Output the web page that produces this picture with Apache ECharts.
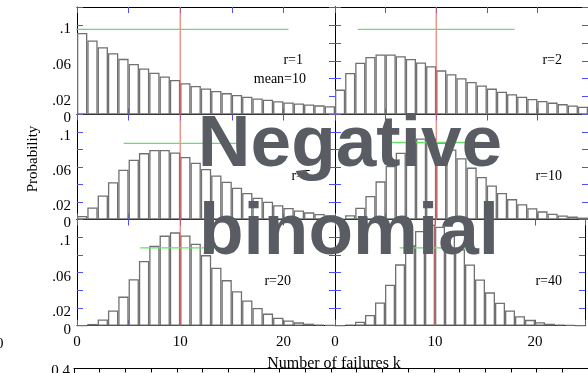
<!DOCTYPE html>
<html><head><meta charset="utf-8">
<script src="https://cdn.jsdelivr.net/npm/echarts@6/dist/echarts.min.js"></script>
<style>html,body{margin:0;padding:0;background:#fff}#c{width:588px;height:373px}</style>
</head><body><div id="c"></div>
<script>
// ---- data ----
const kCategories = [0,1,2,3,4,5,6,7,8,9,10,11,12,13,14,15,16,17,18,19,20,21,22,23,24];
const probR1  = [.0909,.0826,.0751,.0683,.0621,.0564,.0513,.0467,.0424,.0386,.0350,.0319,.0290,.0263,.0239,.0218,.0198,.0180,.0164,.0149,.0135,.0123,.0112,.0102,.0093];
const probR2  = [.0278,.0463,.0579,.0643,.0670,.0670,.0651,.0620,.0581,.0538,.0493,.0449,.0405,.0364,.0325,.0289,.0255,.0226,.0198,.0174,.0152,.0133,.0116,.0100,.0087];
const probR5  = [.0041,.0137,.0274,.0427,.0569,.0683,.0759,.0795,.0795,.0765,.0714,.0649,.0577,.0503,.0431,.0364,.0304,.0250,.0204,.0164,.0132,.0104,.0082,.0064,.0050];
const probR10 = [.0010,.0049,.0134,.0269,.0436,.0611,.0764,.0873,.0927,.0927,.0881,.0801,.0701,.0593,.0487,.0390,.0304,.0233,.0175,.0129,.0093,.0067,.0047,.0033,.0022];
const probR20 = [.0003,.0020,.0070,.0172,.0329,.0526,.0731,.0904,.1018,.1055,.1020,.0927,.0798,.0655,.0515,.0389,.0284,.0200,.0137,.0091,.0059,.0038,.0023,.0014,.0009];
const probR40 = [.0001,.0011,.0044,.0122,.0262,.0462,.0693,.0910,.1070,.1141,.1118,.1017,.0864,.0691,.0523,.0377,.0259,.0171,.0108,.0066,.0039,.0022,.0012,.0007,.0003];
const rValues = [1, 2, 5, 10, 20, 40];
const meanFailures = 10;
const sdLow  = [-0.49, 2.25, 4.52, 5.53, 6.13, 6.46];
const sdHigh = [20.49, 17.75, 15.48, 14.47, 13.87, 13.54];
const sdBandLevel = [0.095, 0.095, 0.087, 0.088, 0.088, 0.088];
const yTickValues = [0, 0.02, 0.06, 0.1];
const yTickLabels = ['0', '.02', '.06', '.1'];
const xTickValues = [0, 10, 20];
const xTickLabels = ['0', '10', '20'];
const panelTexts = ['r=1', 'r=2', 'r=5', 'r=10', 'r=20', 'r=40'];
const lowerChartTopLabel = '0.4';

// ---- layout ----
const probs = [probR1, probR2, probR5, probR10, probR20, probR40];
const cols = [{left: 77, width: 258}, {left: 335, width: 254}];
const rows = [{top: 7, height: 107.5}, {top: 114.5, height: 105}, {top: 219.5, height: 106.2}];
const serif = 'Liberation Serif';
const tickBlue = '#4d4dff';

const grid = [], xAxis = [], yAxis = [], series = [];
probs.forEach((vals, i) => {
  const r = Math.floor(i / 2), c = i % 2;
  grid.push({left: cols[c].left, top: rows[r].top, width: cols[c].width, height: rows[r].height, show: false});
  xAxis.push({gridIndex: i, type: 'category', data: kCategories, show: false, boundaryGap: true});
  xAxis.push({gridIndex: i, type: 'value', min: 0, max: 25, interval: 5, position: 'bottom',
    axisLine: {show: true, onZero: false, lineStyle: {color: '#000', width: 1}},
    axisTick: {show: true, inside: true, length: 6, lineStyle: {color: tickBlue, width: 1}},
    splitLine: {show: false},
    axisLabel: {show: r === 2, margin: 9, fontFamily: serif, fontSize: 15, color: '#000',
      showMinLabel: true, showMaxLabel: true,
      formatter: v => { const j = xTickValues.indexOf(v); return j >= 0 ? xTickLabels[j] : ''; }}});
  xAxis.push({gridIndex: i, type: 'value', min: 0, max: 25, interval: 5, position: 'top',
    axisLine: {show: true, onZero: false, lineStyle: {color: '#000', width: 1}},
    axisTick: {show: true, inside: true, length: 6, lineStyle: {color: tickBlue, width: 1}},
    splitLine: {show: false}, axisLabel: {show: false}});
  yAxis.push({gridIndex: i, type: 'value', min: 0, max: 0.12, interval: 0.02, position: 'left',
    axisLine: {show: true, onZero: false, lineStyle: {color: '#000', width: 1}},
    axisTick: {show: true, inside: true, length: 6, lineStyle: {color: tickBlue, width: 1}},
    splitLine: {show: false},
    axisLabel: {show: c === 0, margin: 6, verticalAlign: 'top', lineHeight: 8, fontFamily: serif, fontSize: 15, color: '#000',
      showMinLabel: true, showMaxLabel: true,
      formatter: v => { const j = yTickValues.findIndex(t => Math.abs(t - v) < 1e-9); return j >= 0 ? yTickLabels[j] : ''; }}});
  yAxis.push({gridIndex: i, type: 'value', min: 0, max: 0.12, interval: 0.02, position: 'right',
    axisLine: {show: true, onZero: false, lineStyle: {color: '#000', width: 1}},
    axisTick: {show: true, inside: true, length: 6, lineStyle: {color: tickBlue, width: 1}},
    splitLine: {show: false}, axisLabel: {show: false}});
  series.push({type: 'bar', xAxisIndex: 3 * i, yAxisIndex: 2 * i, data: vals,
    barCategoryGap: '0%', barGap: '0%', silent: true,
    itemStyle: {color: '#fff', borderColor: '#707070', borderWidth: 1.3}});
  series.push({type: 'line', xAxisIndex: 3 * i + 1, yAxisIndex: 2 * i, symbol: 'none', silent: true, z: 5,
    data: [[meanFailures, 0], [meanFailures, 0.12]], lineStyle: {color: '#e86060', width: 1}});
  series.push({type: 'line', xAxisIndex: 3 * i + 1, yAxisIndex: 2 * i, symbol: 'none', silent: true, z: 5, clip: true,
    data: [[sdLow[i], sdBandLevel[i]], [sdHigh[i], sdBandLevel[i]]], lineStyle: {color: '#66e066', width: 1.3}});
});

// partial chart below (only its top edge is visible)
grid.push({left: 74, top: 368.5, width: 520, height: 100, show: false});
xAxis.push({gridIndex: 6, type: 'value', min: 0, max: 20, interval: 1, position: 'top',
  axisLine: {show: true, onZero: false, lineStyle: {color: '#000', width: 1}},
  axisTick: {show: true, inside: true, length: 4, lineStyle: {color: '#000'}},
  splitLine: {show: false}, axisLabel: {show: false}});
yAxis.push({gridIndex: 6, type: 'value', min: 0, max: 0.4, interval: 0.4, position: 'left',
  axisLine: {show: true, onZero: false, lineStyle: {color: '#000', width: 1}},
  axisTick: {show: false}, splitLine: {show: false}, axisLabel: {show: false}});

const labelPos = [
  {x: 303, y: 60, align: 'right'}, {x: 562, y: 60, align: 'right'},
  {x: 311, y: 176, align: 'right'}, {x: 562, y: 176, align: 'right'},
  {x: 291, y: 281, align: 'right'}, {x: 562, y: 281, align: 'right'}
];
const graphic = panelTexts.map((t, i) => ({type: 'text', x: labelPos[i].x, y: labelPos[i].y, z: 10,
  style: {text: t, font: '14px "' + serif + '"', fill: '#000', textAlign: labelPos[i].align, textVerticalAlign: 'middle'}}));
graphic.push({type: 'text', x: 306, y: 79, z: 10,
  style: {text: 'mean=' + meanFailures, font: '14px "' + serif + '"', fill: '#000', textAlign: 'right', textVerticalAlign: 'middle'}});
graphic.push({type: 'text', x: 33, y: 159, rotation: Math.PI / 2, z: 10,
  style: {text: 'Probability', font: '15px "' + serif + '"', fill: '#000', textAlign: 'center', textVerticalAlign: 'middle'}});
graphic.push({type: 'text', x: 334, y: 364, z: 10,
  style: {text: 'Number of failures k', font: '16px "' + serif + '"', fill: '#000', textAlign: 'center', textVerticalAlign: 'middle'}});
graphic.push({type: 'text', x: -4, y: 344, z: 10,
  style: {text: '0', font: '15px "' + serif + '"', fill: '#000', textAlign: 'left', textVerticalAlign: 'middle'}});
graphic.push({type: 'text', x: 70, y: 371, z: 10,
  style: {text: lowerChartTopLabel, font: '15px "' + serif + '"', fill: '#000', textAlign: 'right', textVerticalAlign: 'middle'}});
graphic.push({type: 'text', x: 350, y: 146, z: 20,
  style: {text: 'Negative', font: 'bold 73px "Liberation Sans"', fill: '#5a5c63', textAlign: 'center', textVerticalAlign: 'middle'}});
graphic.push({type: 'text', x: 349, y: 234, z: 20,
  style: {text: 'binomial', font: 'bold 73px "Liberation Sans"', fill: '#5a5c63', textAlign: 'center', textVerticalAlign: 'middle'}});

const chart = echarts.init(document.getElementById('c'), null, {renderer: 'canvas'});
chart.setOption({animation: false, backgroundColor: '#fff', grid, xAxis, yAxis, series, graphic});
</script></body></html>
